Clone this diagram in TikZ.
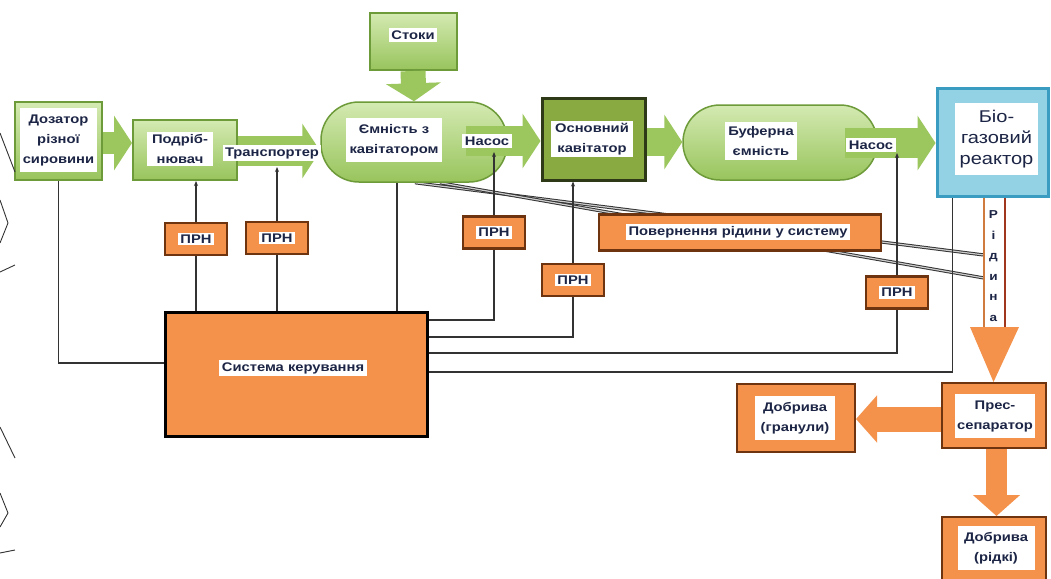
\documentclass[tikz,border=0pt]{standalone}
\usepackage{fontspec}
\setmainfont{Liberation Sans}
\newfontfamily\labf[FakeStretch=1.18]{Liberation Sans}
\usetikzlibrary{arrows.meta,calc}
\pgfdeclarelayer{back}
\pgfsetlayers{back,main}
\definecolor{gfill}{HTML}{C5E09C}
\definecolor{gfilltop}{HTML}{D4EAB2}
\definecolor{gfillbot}{HTML}{98C45C}
\definecolor{gline}{HTML}{6E9B3A}
\definecolor{garr}{HTML}{9CC75E}
\definecolor{dgfill}{HTML}{88AA40}
\definecolor{dgline}{HTML}{2E3A17}
\definecolor{ofill}{HTML}{F4914B}
\definecolor{oline}{HTML}{6E3410}
\definecolor{bfill}{HTML}{93D2E4}
\definecolor{bline}{HTML}{3A9CC0}
\definecolor{navy}{HTML}{1C2545}
\definecolor{wire}{HTML}{333333}
\definecolor{rred}{HTML}{A0361E}
\tikzset{
  lbl/.style={fill=white, text=navy, font=\labf\bfseries\fontsize{12.5}{20}\selectfont, align=center, inner sep=2.5pt},
  biolbl/.style={fill=white, text=navy, font=\labf\fontsize{17}{21}\selectfont, align=center, inner sep=3pt},
  gbox/.style={draw=gline, line width=2pt, top color=gfilltop, bottom color=gfillbot},
  capsule/.style={draw=gline, line width=1.5pt, top color=gfilltop, bottom color=gfillbot},
  dgbox/.style={draw=dgline, line width=3pt, fill=dgfill},
  obox/.style={draw=oline, line width=2pt, fill=ofill},
  prn/.style={draw=oline, line width=2.2pt, fill=ofill, minimum width=62pt, minimum height=32pt},
  sysbox/.style={draw=black, line width=3pt, fill=ofill},
  bbox/.style={draw=bline, line width=3pt, fill=bfill},
  garrow/.style={draw=garr, line width=#1, -{Triangle[length=18pt,width=54pt]}},
  oarrow/.style={draw=ofill, line width=#1, -{Triangle[length=21pt,width=46pt]}},
  wireline/.style={draw=wire, line width=1.3pt},
  upwire/.style={draw=wire, line width=1.3pt, -{Stealth[length=5pt,width=4pt]}},
  retline/.style={draw=wire, line width=1pt, double=gray!40, double distance=1.2pt},
  scan/.style={draw=black!80, line width=0.9pt}
}
\begin{document}
\begin{tikzpicture}[x=1pt,y=-1pt]
\useasboundingbox (0,0) rectangle (1051,578);

% ---------- boxes ----------
\node[gbox, minimum width=87pt, minimum height=78pt] (doz) at (58.5,141) {};
\node[gbox, minimum width=104pt, minimum height=60pt] (pod) at (185,150) {};
\node[gbox, minimum width=87pt, minimum height=57pt] (stoki) at (413,41.5) {};
\node[capsule, rounded corners=38pt, minimum width=186pt, minimum height=80pt] (cap1) at (414,142) {};
\node[dgbox, minimum width=103pt, minimum height=82pt] (osn) at (593.5,139) {};
\node[capsule, rounded corners=37pt, minimum width=194pt, minimum height=75pt] (buf) at (780,142.5) {};
\node[bbox, minimum width=111pt, minimum height=108pt] (bio) at (992.5,142) {};
\node[obox, minimum width=104pt, minimum height=65pt] (pres) at (993.5,415.5) {};
\node[obox, minimum width=118pt, minimum height=68pt] (dgr) at (796,418) {};
\node[obox, minimum width=104pt, minimum height=66pt] (drid) at (993.5,550) {};
\node[sysbox, minimum width=262pt, minimum height=124pt] (sys) at (296,374) {};
\node[obox, line width=2.2pt, minimum width=282pt, minimum height=36pt] (ret) at (740,232.5) {};

\node[prn] (p1) at (196,239) {};
\node[prn] (p2) at (277,238) {};
\node[prn] (p3) at (494,232.5) {};
\node[prn] (p4) at (573,280) {};
\node[prn] (p5) at (897,292.5) {};

% ---------- green flow arrows ----------
\draw[garrow=22pt] (doz.east |- 0,143) -- (pod.west |- 0,143);
\draw[garrow=30pt] (pod.east |- 0,151) -- (cap1.west |- 0,151);
\draw[garrow=25pt] (stoki.south) -- (cap1.north);
\draw[garrow=30pt] (466,141) -- (osn.west |- 0,141);
\draw[garrow=28pt] (osn.east |- 0,142) -- (buf.west |- 0,142);
\draw[garrow=30pt] (845,143) -- (bio.west |- 0,143);

% ---------- liquid arrow (Рідина) ----------
\coordinate (rl) at ([xshift=-8.5pt]bio.south);
\coordinate (rr) at ([xshift=12.5pt]bio.south);
\coordinate (hb) at (0,327);
\fill[white] (rl) rectangle (rr |- hb);
\draw[ofill!85!black, line width=2.2pt] (rl) -- (rl |- hb);
\draw[rred, line width=2.2pt] (rr) -- (rr |- hb);
\fill[ofill] ([xshift=-14pt]rl |- hb) -- ([xshift=14pt]rr |- hb) -- (pres.north) -- cycle;
\node[text=navy, font=\labf\bfseries\fontsize{11.5}{20.5}\selectfont, align=center, inner sep=0pt] (ridyna) at (993.5,266) {Р\\і\\д\\и\\н\\а};

% ---------- orange output arrows ----------
\draw[oarrow=25pt] (pres.west |- 0,419) -- (dgr.east |- 0,419);
\draw[oarrow=21pt] ([xshift=3pt]pres.south) -- ([xshift=3pt]drid.north);

% ---------- wires (behind) ----------
\begin{pgfonlayer}{back}
\fill[white] (0,0) rectangle (1051,578);
\coordinate (ra) at (984,255);
\coordinate (rb) at (984,278);
\draw[retline] ([xshift=1pt]cap1.south) -- (ra);
\draw[retline] ([xshift=26pt]cap1.south) -- (rb);
\draw[wireline] (doz.south) |- ([yshift=11pt]sys.west);
\draw[wireline] (p1.south) -- (p1.south |- sys.north);
\draw[wireline] (p2.south) -- (p2.south |- sys.north);
\draw[wireline] ([xshift=-17pt]cap1.south) -- ([xshift=-17pt]cap1.south |- sys.north);
\draw[wireline] (p3.south) |- ([yshift=54pt]sys.east);
\draw[wireline] (p4.south) |- ([yshift=37pt]sys.east);
\draw[wireline] (p5.south) |- ([yshift=21pt]sys.east);
\draw[wireline] ([xshift=-40pt]bio.south) |- ([yshift=2pt]sys.east);
\end{pgfonlayer}
\draw[upwire] (p1.north) -- (p1.north |- pod.south);
\draw[upwire] (p2.north) -- (p2.north |- 0,167);
\draw[upwire] (p3.north) -- (p3.north |- 0,152);
\draw[upwire] (p4.north) -- (p4.north |- osn.south);
\draw[upwire] (p5.north) -- (p5.north |- 0,153);

% ---------- labels ----------
\node[lbl, minimum width=73pt, minimum height=64pt] (doz-l) at (58.5,140) {Дозатор\\різної\\сировини};
\node[lbl, minimum width=66pt] (pod-l) at (180,149) {Подріб-\\нювач};
\node[lbl] (tr-l) at (272,153) {Транспортер};
\node[lbl] (stoki-l) at (413,35) {Стоки};
\node[lbl, minimum width=96pt, minimum height=44pt] (cap1-l) at (394,140) {Ємність з\\кавітатором};
\node[lbl] (nasos1) at (487,141) {Насос};
\node[lbl, minimum width=82pt, minimum height=36pt] (osn-l) at (592,139) {Основний\\кавітатор};
\node[lbl, minimum width=72pt, minimum height=38pt] (buf-l) at (761,141) {Буферна\\ємність};
\node[lbl] (nasos2) at (871,145) {Насос};
\node[biolbl, minimum width=83pt, minimum height=72pt] (bio-l) at (996.5,139) {Біо-\\газовий\\реактор};
\node[lbl, minimum width=80pt, minimum height=44pt] (pres-l) at (995,416) {Прес-\\сепаратор};
\node[lbl, minimum width=80pt, minimum height=44pt] (dgr-l) at (795,418) {Добрива\\(гранули)};
\node[lbl, minimum width=77pt, minimum height=44pt] (drid-l) at (996,548) {Добрива\\(рідкі)};
\node[lbl] (sys-l) at (293,368) {Система керування};
\node[lbl] (ret-l) at (738,232) {Повернення рідини у систему};
\foreach \p in {p1,p2,p3,p4,p5} {\node[lbl, inner sep=2pt] at (\p) {ПРН};}

% ---------- scan marks at left edge ----------
\draw[scan] (0,133) -- (15,172);
\draw[scan] (0,200) -- (8,223) -- (0,243);
\draw[scan] (0,272) -- (15,265);
\draw[scan] (0,427) -- (15,458);
\draw[scan] (0,493) -- (8,513) -- (0,527);
\draw[scan] (0,553) -- (15,550);
\end{tikzpicture}
\end{document}
